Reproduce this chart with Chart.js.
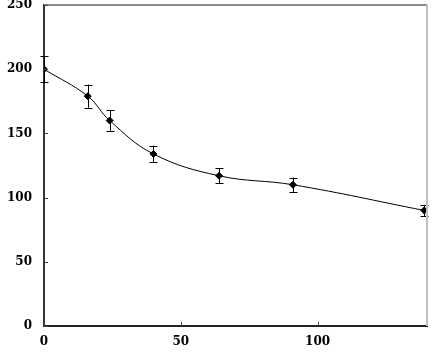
<!DOCTYPE html>
<html>
<head>
<meta charset="utf-8">
<script src="https://cdn.jsdelivr.net/npm/chart.js@4.4.1/dist/chart.umd.min.js"></script>
<style>
  body { margin: 0; background: #fff; }
  #wrap { width: 434px; height: 352px; position: relative; }
</style>
</head>
<body>
<div id="wrap"><canvas id="curveChart"></canvas></div>
<script>
var xValues = [0, 16, 24, 40, 64, 91, 139];
var yValues = [200, 179, 160, 134, 117, 110, 90];
var yErrors = [10, 9, 8, 6.5, 5.7, 5.6, 4.3];
var xTicks = [0, 50, 100];
var yTicks = [0, 50, 100, 150, 200, 250];

var points = xValues.map(function(x, i) { return { x: x, y: yValues[i] }; });

// error bars, frame and inner tick marks
var extrasPlugin = {
    id: 'extras',
    afterDatasetsDraw: function(chart) {
        var ctx = chart.ctx, xs = chart.scales.x, ys = chart.scales.y, a = chart.chartArea;
        ctx.save();
        ctx.strokeStyle = '#000';
        ctx.lineWidth = 1;
        points.forEach(function(p, i) {
            var px = Math.round(xs.getPixelForValue(p.x)) + 0.5;
            var top = ys.getPixelForValue(p.y + yErrors[i]);
            var bot = ys.getPixelForValue(p.y - yErrors[i]);
            ctx.beginPath();
            ctx.moveTo(px, top); ctx.lineTo(px, bot);
            ctx.moveTo(px - 4, Math.round(top) + 0.5); ctx.lineTo(px + 4, Math.round(top) + 0.5);
            ctx.moveTo(px - 4, Math.round(bot) + 0.5); ctx.lineTo(px + 4, Math.round(bot) + 0.5);
            ctx.stroke();
        });
        // top and right frame
        ctx.strokeStyle = '#8a8a8a';
        ctx.lineWidth = 2;
        ctx.beginPath(); ctx.moveTo(a.left, a.top); ctx.lineTo(a.right, a.top); ctx.stroke();
        ctx.strokeStyle = '#c0c0c0';
        ctx.beginPath(); ctx.moveTo(a.right, a.top); ctx.lineTo(a.right, a.bottom); ctx.stroke();
        // inner ticks
        ctx.strokeStyle = '#444';
        ctx.lineWidth = 1;
        yTicks.forEach(function(v) {
            var py = Math.round(ys.getPixelForValue(v)) + 0.5;
            ctx.beginPath(); ctx.moveTo(a.left, py); ctx.lineTo(a.left + 4, py); ctx.stroke();
        });
        xTicks.forEach(function(v) {
            var px = Math.round(xs.getPixelForValue(v)) + 0.5;
            ctx.beginPath(); ctx.moveTo(px, a.bottom); ctx.lineTo(px, a.bottom - 4); ctx.stroke();
        });
        ctx.restore();
    }
};

var tickFont = { family: 'DejaVu Serif', size: 12, weight: 'bold' };

new Chart(document.getElementById('curveChart'), {
    type: 'scatter',
    data: {
        datasets: [{
            data: points,
            showLine: true,
            borderColor: '#000',
            borderWidth: 1,
            tension: 0.4,
            pointStyle: 'rectRot',
            pointRadius: 3.5,
            pointBackgroundColor: '#000',
            pointBorderColor: '#000'
        }]
    },
    options: {
        responsive: true,
        maintainAspectRatio: false,
        animation: false,
        layout: { padding: { left: 0, top: 5, right: 7, bottom: 0 } },
        plugins: { legend: { display: false }, tooltip: { enabled: false } },
        scales: {
            x: {
                type: 'linear', min: 0, max: 140,
                afterBuildTicks: function(s) { s.ticks = xTicks.map(function(v) { return { value: v }; }); },
                afterFit: function(s) { s.height = 26; s.paddingLeft = 0; s.paddingRight = 0; },
                grid: { display: false, drawTicks: false },
                border: { color: '#222', width: 2 },
                ticks: { color: '#000', font: tickFont, padding: 9, maxRotation: 0 }
            },
            y: {
                min: 0, max: 250,
                afterBuildTicks: function(s) { s.ticks = yTicks.map(function(v) { return { value: v }; }); },
                afterFit: function(s) { s.width = 44; s.paddingTop = 0; s.paddingBottom = 0; },
                grid: { display: false, drawTicks: false },
                border: { color: '#333', width: 2 },
                ticks: { color: '#000', font: tickFont, padding: 12 }
            }
        }
    },
    plugins: [extrasPlugin]
});
</script>
</body>
</html>
